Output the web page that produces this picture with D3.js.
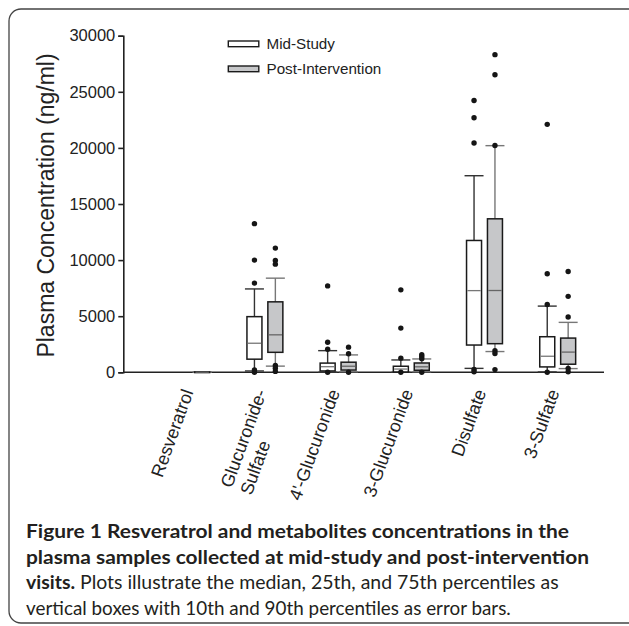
<!DOCTYPE html>
<html>
<head>
<meta charset="utf-8">
<script src="https://cdn.jsdelivr.net/npm/d3@7"></script>
<style>
  html, body { margin: 0; padding: 0; background: #fff; }
  svg { display: block; }
</style>
</head>
<body>
<svg id="chart" width="629" height="626"></svg>
<script>
// ---- data ----
const categories = ["Resveratrol", "Glucuronide-\nSulfate", "4'-Glucuronide", "3-Glucuronide", "Disulfate", "3-Sulfate"];
const seriesNames = ["Mid-Study", "Post-Intervention"];
const yTicks = [0, 5000, 10000, 15000, 20000, 25000, 30000];

const midP10    = [0, 120, 0, 0, 350, 30];
const midQ1     = [0, 1170, 120, 30, 2430, 480];
const midMedian = [0, 2590, 500, 290, 7280, 1430];
const midQ3     = [0, 4960, 820, 540, 11750, 3170];
const midP90    = [0, 7430, 1930, 1100, 17520, 5900];
const midOutliers = [[], [13250, 10000, 7950, 200, 0], [7700, 2680, 2060, 0], [7350, 3940, 1260, 0], [24220, 22690, 20440, 260, 50], [22100, 8780, 6040, 0]];

const postP10    = [0, 550, 50, 50, 1850, 330];
const postQ1     = [0, 1780, 200, 180, 2550, 720];
const postMedian = [10, 3340, 540, 490, 7290, 1800];
const postQ3     = [30, 6280, 900, 830, 13680, 3050];
const postP90    = [50, 8390, 1550, 1190, 20200, 4450];
const postOutliers = [[], [11070, 9970, 9640, 600, 360, 80], [2240, 1650, 0], [1560, 1380, 1200, 0], [28310, 26520, 20220, 1930, 1670, 240], [8980, 6770, 4930, 350, 50]];

const captionLines = [
  [{t: "Figure 1 Resveratrol and metabolites concentrations in the", b: true}],
  [{t: "plasma samples collected at mid-study and post-intervention", b: true}],
  [{t: "visits.", b: true}, {t: " Plots illustrate the median, 25th, and 75th percentiles as", b: false}],
  [{t: "vertical boxes with 10th and 90th percentiles as error bars.", b: false}]
];

// ---- build table ----
const series = [
  {name: seriesNames[0], fill: "#ffffff", whisker: "#333", median: "#777",
   p10: midP10, q1: midQ1, med: midMedian, q3: midQ3, p90: midP90, out: midOutliers},
  {name: seriesNames[1], fill: "#c6c7c9", whisker: "#777", median: "#666",
   p10: postP10, q1: postQ1, med: postMedian, q3: postQ3, p90: postP90, out: postOutliers}
];

const svg = d3.select("#chart");
const axisFont = "'Liberation Sans', Arial, Helvetica, sans-serif";

// frame
svg.append("rect").attr("x", 9).attr("y", 9).attr("width", 660).attr("height", 614)
  .attr("rx", 12).attr("fill", "none").attr("stroke", "#444").attr("stroke-width", 1.3);

const y = d3.scaleLinear().domain([0, 30000]).range([372.3, 35.7]);
const x = d3.scaleBand().domain(categories).range([155.1, 594.3]).padding(0);
const sub = d3.scaleBand().domain(seriesNames).range([-18.3, 18.3]).paddingInner(0.25).paddingOuter(0);
const boxW = 15, capW = 19;

// y axis
const yAxis = svg.append("g").attr("transform", "translate(123.3,0)")
  .call(d3.axisLeft(y).tickValues(yTicks).tickSize(5).tickPadding(3).tickFormat(d3.format("d")));
yAxis.selectAll("path,line").attr("stroke", "#222").attr("stroke-width", 1.6);
yAxis.selectAll("text").attr("font-family", axisFont).attr("font-size", 16.5).attr("fill", "#222");

// x baseline
svg.append("line").attr("x1", 123.3).attr("x2", 604).attr("y1", y(0)).attr("y2", y(0))
  .attr("stroke", "#222").attr("stroke-width", 1.6);

// y title
svg.append("text").attr("transform", `translate(54,205.5) rotate(-90)`)
  .attr("text-anchor", "middle").attr("font-family", axisFont).attr("font-size", 23)
  .attr("fill", "#222").text("Plasma Concentration (ng/ml)");

// boxes
series.forEach(s => {
  const g = svg.append("g");
  categories.forEach((c, i) => {
    if (s.p90[i] <= 0 && s.out[i].length === 0) return; // nothing above zero
    const cx = x(c) + x.bandwidth() / 2 + sub(s.name) + sub.bandwidth() / 2;
    const gg = g.append("g");
    // whiskers
    gg.append("line").attr("x1", cx).attr("x2", cx).attr("y1", y(s.p90[i])).attr("y2", y(s.q3[i]))
      .attr("stroke", s.whisker).attr("stroke-width", 1.4);
    gg.append("line").attr("x1", cx).attr("x2", cx).attr("y1", y(s.q1[i])).attr("y2", y(s.p10[i]))
      .attr("stroke", s.whisker).attr("stroke-width", 1.4);
    [s.p90[i], s.p10[i]].forEach(v => {
      gg.append("line").attr("x1", cx - capW / 2).attr("x2", cx + capW / 2).attr("y1", y(v)).attr("y2", y(v))
        .attr("stroke", s.whisker).attr("stroke-width", 1.4);
    });
    // box
    gg.append("rect").attr("x", cx - boxW / 2).attr("width", boxW)
      .attr("y", y(s.q3[i])).attr("height", Math.max(0.6, y(s.q1[i]) - y(s.q3[i])))
      .attr("fill", s.fill).attr("stroke", "#1a1a1a").attr("stroke-width", 1.5);
    gg.append("line").attr("x1", cx - boxW / 2 + 0.8).attr("x2", cx + boxW / 2 - 0.8)
      .attr("y1", y(s.med[i])).attr("y2", y(s.med[i]))
      .attr("stroke", s.median).attr("stroke-width", 1.3);
    // outliers
    s.out[i].forEach(v => {
      gg.append("circle").attr("cx", cx).attr("cy", y(v)).attr("r", 2.7).attr("fill", "#151515");
    });
  });
});

// x labels
categories.forEach(c => {
  const cx = x(c) + x.bandwidth() / 2;
  const lines = c.split("\n");
  const g = svg.append("g").attr("transform", `translate(${cx + 2},${392}) rotate(-70)`);
  const t = g.append("text").attr("font-family", axisFont).attr("font-size", 18).attr("fill", "#222");
  const spans = lines.map((l, k) => t.append("tspan").attr("y", k * 21).text(l));
  const lens = spans.map(sp => sp.node().getComputedTextLength());
  const maxL = d3.max(lens);
  spans.forEach(sp => sp.attr("x", -maxL));
});

// legend
series.forEach((s, k) => {
  const ly = 41 + k * 25;
  svg.append("rect").attr("x", 228.3).attr("y", ly).attr("width", 30.5).attr("height", 5.7)
    .attr("fill", s.fill).attr("stroke", "#1a1a1a").attr("stroke-width", 1.4);
  svg.append("text").attr("x", 266.5).attr("y", ly + 7.5).attr("font-family", axisFont)
    .attr("font-size", 15.2).attr("fill", "#222").text(s.name);
});

// caption
const capFont = "Lato, 'Open Sans', 'Noto Sans', sans-serif";
const capBase = [538, 563.5, 589, 614.5];
const capEnd = [569, 589, 558.6, 510.8];
captionLines.forEach((parts, k) => {
  const t = svg.append("text").attr("x", 26).attr("y", capBase[k])
    .attr("font-family", capFont).attr("font-size", 19).attr("fill", "#231f20");
  parts.forEach(p => t.append("tspan").attr("font-weight", p.b ? 700 : 400).text(p.t));
  t.attr("textLength", capEnd[k] - 26).attr("lengthAdjust", "spacingAndGlyphs");
});
</script>
</body>
</html>
